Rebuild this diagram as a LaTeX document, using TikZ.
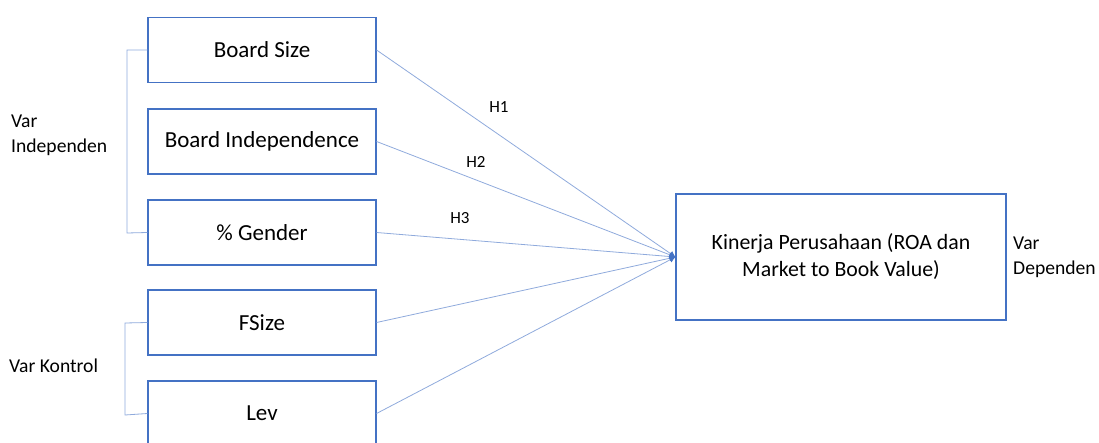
\documentclass[tikz,border=0pt]{standalone}
\usepackage{fontspec}
\setmainfont{Carlito}
\usetikzlibrary{arrows.meta}
\definecolor{boxblue}{HTML}{4472C4}
\definecolor{lineblue}{HTML}{8FAADC}
\begin{document}
\begin{tikzpicture}[x=1pt,y=-1pt,
  vbox/.style={draw=boxblue,line width=1.1pt,minimum width=228pt,minimum height=65pt,inner sep=0pt,font=\fontsize{23}{27}\selectfont},
  conn/.style={draw=lineblue,line width=0.8pt,-{Latex[length=6pt,width=6pt,fill=boxblue,color=boxblue]}},
  brk/.style={draw=lineblue,line width=0.8pt},
  lbl/.style={font=\fontsize{19.6}{25}\selectfont,inner sep=0pt},
  hlbl/.style={font=\fontsize{17}{20}\selectfont,inner sep=0pt}]
\useasboundingbox (0,0) rectangle (1099,443);
\clip (0,0) rectangle (1099,443);
\node[vbox] (bs) at (262,50) {Board Size};
\node[vbox] (bi) at (262,141.5) {Board Independence};
\node[vbox] (gd) at (262,232.5) {\% Gender};
\node[vbox] (fs) at (262,322.5) {FSize};
\node[vbox] (lv) at (262,413.5) {Lev};
\node[draw=boxblue,line width=1.1pt,minimum width=330pt,minimum height=126pt,inner sep=0pt,align=center,font=\fontsize{21.8}{27}\selectfont] (kp) at (841,257) {Kinerja Perusahaan (ROA dan\\Market to Book Value)};
\coordinate (t) at (kp.west);
\draw[conn] (bs.east) -- (t);
\draw[conn] (bi.east) -- (t);
\draw[conn] (gd.east) -- (t);
\draw[conn] (fs.east) -- (t);
\draw[conn] (lv.east) -- (t);
\coordinate (b1) at (127,50);
\coordinate (b2) at (127,233);
\draw[brk] (bs.west) -- (b1) -- (b2) -- (gd.west);
\coordinate (c1) at (125,323);
\coordinate (c2) at (125,415);
\draw[brk] (fs.west) -- (c1) -- (c2) -- (lv.west);
\node[hlbl] (h1) at (499,107) {H1};
\node[hlbl] (h2) at (476,162) {H2};
\node[hlbl] (h3) at (460,218) {H3};
\node[lbl,anchor=west,align=left] (vi) at (11,135.5) {Var\\Independen};
\node[lbl,anchor=west] (vk) at (9,366) {Var Kontrol};
\node[lbl,anchor=west,align=left] (vd) at (1013,257) {Var\\Dependen};
\end{tikzpicture}
\end{document}
